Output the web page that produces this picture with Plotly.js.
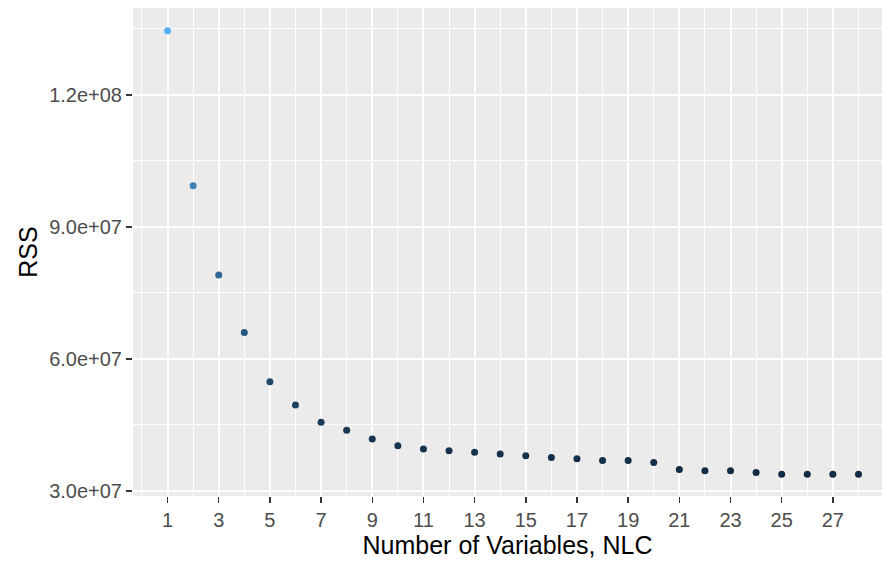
<!DOCTYPE html>
<html>
<head>
<meta charset="utf-8">
<script src="https://cdn.plot.ly/plotly-3.0.1.min.js"></script>
<style>html,body{margin:0;padding:0;background:#fff;}#chart{width:882px;height:567px;}</style>
</head>
<body>
<div id="chart"></div>
<script>
const numVars = [1,2,3,4,5,6,7,8,9,10,11,12,13,14,15,16,17,18,19,20,21,22,23,24,25,26,27,28];
const rss = [134.6e6, 99.4e6, 79.1e6, 66.0e6, 54.85e6, 49.55e6, 45.6e6, 43.8e6, 41.8e6, 40.3e6, 39.55e6,
             39.17e6, 38.8e6, 38.4e6, 38.0e6, 37.6e6, 37.3e6, 36.9e6, 36.9e6, 36.5e6, 34.9e6, 34.6e6,
             34.6e6, 34.2e6, 33.8e6, 33.8e6, 33.8e6, 33.8e6];
const yTickVals = [30e6, 60e6, 90e6, 120e6];
const yTickText = ["3.0e+07", "6.0e+07", "9.0e+07", "1.2e+08"];
const xTickVals = [1,3,5,7,9,11,13,15,17,19,21,23,25,27];

const trace = {
  x: numVars,
  y: rss,
  type: 'scatter',
  mode: 'markers',
  marker: {
    size: 7,
    color: rss,
    colorscale: [[0, '#132B43'], [1, '#56B1F7']],
    showscale: false,
    line: {width: 0}
  },
  hoverinfo: 'x+y'
};

const layout = {
  width: 882,
  height: 567,
  margin: {l: 133, r: 0, t: 8, b: 71},
  paper_bgcolor: '#ffffff',
  plot_bgcolor: '#EBEBEB',
  showlegend: false,
  font: {family: 'Liberation Sans, Arial, sans-serif'},
  xaxis: {
    range: [-0.35, 28.92],
    tickvals: xTickVals,
    ticktext: xTickVals.map(String),
    ticks: 'outside',
    ticklen: 6,
    tickwidth: 1.5,
    tickcolor: '#333333',
    tickfont: {size: 20, color: '#4D4D4D'},
    showgrid: true,
    gridcolor: '#ffffff',
    gridwidth: 2,
    zeroline: false,
    showline: false,
    minor: {dtick: 2, tick0: 0, showgrid: true, gridcolor: '#ffffff', gridwidth: 1, ticks: ''},
    title: {text: 'Number of Variables, NLC', font: {size: 25, color: '#000000'}, standoff: 4}
  },
  yaxis: {
    range: [28.86e6, 139.77e6],
    tickvals: yTickVals,
    ticktext: yTickText,
    ticks: 'outside',
    ticklen: 6,
    tickwidth: 1.5,
    tickcolor: '#333333',
    tickfont: {size: 20, color: '#4D4D4D'},
    showgrid: true,
    gridcolor: '#ffffff',
    gridwidth: 2,
    zeroline: false,
    showline: false,
    minor: {tickvals: [45e6, 75e6, 105e6, 135e6], showgrid: true, gridcolor: '#ffffff', gridwidth: 1, ticks: ''},
    title: {text: 'RSS', font: {size: 25, color: '#000000'}, standoff: 4}
  }
};

Plotly.newPlot('chart', [trace], layout, {displayModeBar: false, staticPlot: true});
</script>
</body>
</html>
